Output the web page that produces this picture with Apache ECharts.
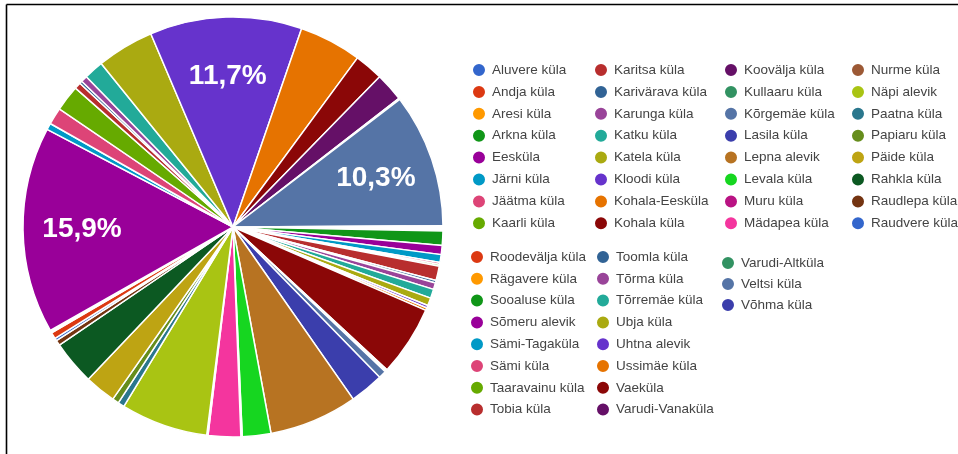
<!DOCTYPE html>
<html>
<head>
<meta charset="utf-8">
<script src="https://cdn.jsdelivr.net/npm/echarts@6/dist/echarts.min.js"></script>
<style>
html, body { margin: 0; padding: 0; background: #fff; }
#chart { width: 958px; height: 454px; }
</style>
</head>
<body>
<div id="chart"></div>
<script>
// villages in data order (legend order), shares in percent
var villages = [
  'Aluvere küla', 'Andja küla', 'Aresi küla', 'Arkna küla', 'Eesküla', 'Järni küla', 'Jäätma küla', 'Kaarli küla',
  'Karitsa küla', 'Karivärava küla', 'Karunga küla', 'Katku küla', 'Katela küla', 'Kloodi küla', 'Kohala-Eesküla', 'Kohala küla',
  'Koovälja küla', 'Kullaaru küla', 'Kõrgemäe küla', 'Lasila küla', 'Lepna alevik', 'Levala küla', 'Muru küla', 'Mädapea küla',
  'Nurme küla', 'Näpi alevik', 'Paatna küla', 'Papiaru küla', 'Päide küla', 'Rahkla küla', 'Raudlepa küla', 'Raudvere küla',
  'Roodevälja küla', 'Rägavere küla', 'Sooaluse küla', 'Sõmeru alevik', 'Sämi-Tagaküla', 'Sämi küla', 'Taaravainu küla', 'Tobia küla',
  'Toomla küla', 'Tõrma küla', 'Tõrremäe küla', 'Ubja küla', 'Uhtna alevik', 'Ussimäe küla', 'Vaeküla', 'Varudi-Vanaküla',
  'Varudi-Altküla', 'Veltsi küla', 'Võhma küla'
];
var shares = [
  0.1, 0.1, 0.1, 1.1, 0.7, 0.6, 0.15, 0.15,
  1.1, 0.2, 0.5, 0.7, 0.6, 0.2, 0.2, 5.4,
  0.1, 0.1, 0.6, 2.6, 6.8, 2.2, 0.1, 2.5,
  0.1, 6.7, 0.5, 0.5, 2.4, 3.4, 0.4, 0.2,
  0.5, 0.1, 0.1, 15.9, 0.5, 1.3, 2.0, 0.5,
  0.2, 0.5, 1.5, 4.4, 11.7, 4.8, 2.2, 2.2,
  0.1, 10.3, 0.1
];
var palette = [
  '#3366cc', '#dc3912', '#ff9900', '#109618', '#990099', '#0099c6', '#dd4477', '#66aa00',
  '#b82e2e', '#316395', '#994499', '#22aa99', '#aaaa11', '#6633cc', '#e67300', '#8b0707',
  '#651067', '#329262', '#5574a6', '#3b3eac', '#b77322', '#16d620', '#b91383', '#f4359e',
  '#9c5935', '#a9c413', '#2a778d', '#668d1c', '#bea413', '#0c5922', '#743411'
];

var chart = echarts.init(document.getElementById('chart'));

var pieData = villages.map(function (n, i) {
  return { name: n, value: shares[i] };
});
// only the big slices get a percent label
var labelData = villages.map(function (n, i) {
  return { name: n, value: shares[i], label: { show: shares[i] >= 10 } };
});

// legend columns: [from, to, left, top, gap]
var legendCols = [
  [0, 8, 471, 62, 5.9],
  [8, 16, 593, 62, 5.9],
  [16, 24, 723, 62, 5.9],
  [24, 32, 850, 62, 5.9],
  [32, 40, 469, 249, 5.8],
  [40, 48, 595, 249, 5.8],
  [48, 51, 720, 255, 5.0]
];
var legends = legendCols.map(function (c) {
  return {
    orient: 'vertical',
    left: c[2],
    top: c[3],
    padding: 0,
    itemGap: c[4],
    itemWidth: 14,
    itemHeight: 14,
    icon: 'circle',
    selectedMode: false,
    data: villages.slice(c[0], c[1]),
    textStyle: {
      fontFamily: 'Arial, "Liberation Sans", sans-serif',
      fontSize: 13.5,
      lineHeight: 14,
      color: '#444',
      padding: [0, 0, 0, 1]
    }
  };
});

var option = {
  animation: false,
  color: palette,
  legend: legends,
  graphic: [
    { type: 'line', shape: { x1: 6.5, y1: 4.5, x2: 958, y2: 4.5 }, style: { stroke: '#000', lineWidth: 1.6 } },
    { type: 'line', shape: { x1: 6.5, y1: 4.5, x2: 6.5, y2: 454 }, style: { stroke: '#000', lineWidth: 1.6 } }
  ],
  series: [
    {
      type: 'pie',
      center: [233, 227],
      radius: [0, 210],
      startAngle: 0,
      clockwise: true,
      avoidLabelOverlap: false,
      emphasis: { disabled: true },
      itemStyle: { borderColor: '#fff', borderWidth: 1.5 },
      label: { show: false },
      labelLine: { show: false },
      data: pieData
    },
    {
      // invisible ring only used to put the % labels further out
      type: 'pie',
      center: [233, 227],
      radius: [86, 210],
      startAngle: 0,
      clockwise: true,
      silent: true,
      avoidLabelOverlap: false,
      emphasis: { disabled: true },
      itemStyle: { color: 'rgba(0,0,0,0)', borderWidth: 0 },
      label: {
        position: 'inside',
        color: '#fff',
        fontFamily: 'Arial, "Liberation Sans", sans-serif',
        fontSize: 28,
        fontWeight: 'bold',
        formatter: function (p) {
          return p.percent.toFixed(1).replace('.', ',') + '%';
        }
      },
      labelLine: { show: false },
      data: labelData
    }
  ]
};

chart.setOption(option);
</script>
</body>
</html>
